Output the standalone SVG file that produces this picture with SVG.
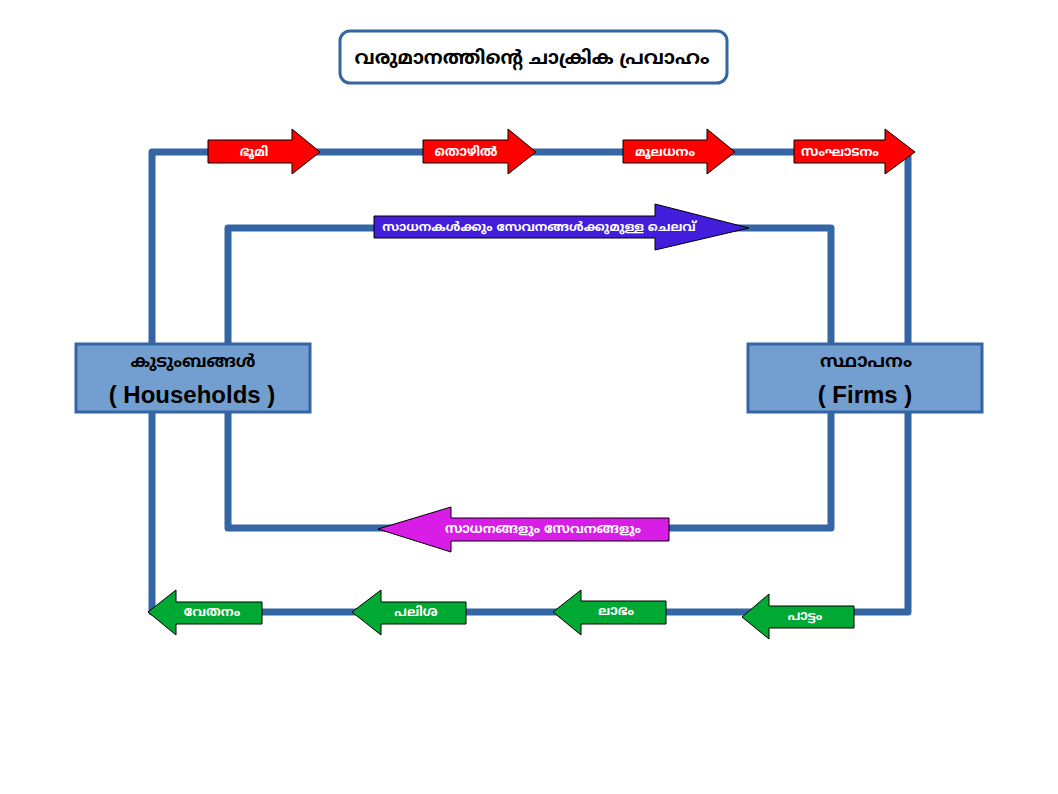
<svg xmlns="http://www.w3.org/2000/svg" width="1058" height="794" viewBox="0 0 1058 794">
<style>
.loop{fill:none;stroke:#3465a4;stroke-width:7;stroke-linejoin:round}
.box{fill:#729fcf;stroke:#3465a4;stroke-width:3}
.arr{stroke:#000;stroke-width:1}
.ml{font-family:"Noto Sans Malayalam","Noto Sans","DejaVu Sans",sans-serif;font-weight:bold;text-anchor:middle}
.at{fill:#fff;font-size:13px}
.en{font-family:"Liberation Sans",Arial,sans-serif;font-weight:bold;font-size:24px;text-anchor:middle;fill:#000}
</style>
<rect width="1058" height="794" fill="#fff"/>
<g id="title">
<rect x="340" y="31" width="387" height="52" rx="10" fill="#fff" stroke="#3465a4" stroke-width="3"/>
<text class="ml" x="532" y="64" font-size="19" fill="#000">വരുമാനത്തിന്റെ ചാക്രിക പ്രവാഹം</text>
</g>
<g id="connectors">
<path class="loop" d="M152,344 V152 H908 V612 H152 V412"/>
<path class="loop" d="M228,344 V228 H831 V528 H228 V412"/>
</g>
<g id="households">
<rect class="box" x="76" y="344" width="234" height="68"/>
<text class="ml" x="193" y="367" font-size="17" fill="#000">കുടുംബങ്ങൾ</text>
<text class="en" x="192" y="403">( Households )</text>
</g>
<g id="firms">
<rect class="box" x="748" y="344" width="234" height="68"/>
<text class="ml" x="866" y="367" font-size="18" fill="#000">സ്ഥാപനം</text>
<text class="en" x="865" y="403">( Firms )</text>
</g>
<g id="arrow-land">
<polygon class="arr" fill="#ff0000" points="208,140 292,140 292,129 320,152 292,174 292,163 208,163"/>
<text class="ml at" x="254" y="156">ഭൂമി</text>
</g>
<g id="arrow-labour">
<polygon class="arr" fill="#ff0000" points="423,140 508,140 508,129 536,152 508,174 508,163 423,163"/>
<text class="ml at" x="466" y="156">തൊഴിൽ</text>
</g>
<g id="arrow-capital">
<polygon class="arr" fill="#ff0000" points="623,140 707,140 707,129 735,152 707,174 707,163 623,163"/>
<text class="ml at" x="665" y="156">മൂലധനം</text>
</g>
<g id="arrow-organisation">
<polygon class="arr" fill="#ff0000" points="794,140 885,140 885,129 915,152 885,174 885,163 794,163"/>
<text class="ml at" x="840" y="156">സംഘാടനം</text>
</g>
<g id="arrow-spending">
<polygon class="arr" fill="#421ddb" points="374,216 655,216 655,204 749,228 655,250 655,238 374,238"/>
<text class="ml" x="539" y="231" font-size="12.6" fill="#fff">സാധനകൾക്കും സേവനങ്ങൾക്കുമുള്ള ചെലവ്</text>
</g>
<g id="arrow-goods">
<polygon class="arr" fill="#d81de6" points="669,518 451,518 451,507 378,529 451,552 451,541 669,541"/>
<text class="ml at" x="543" y="533">സാധനങ്ങളും സേവനങ്ങളും</text>
</g>
<g id="arrow-wages">
<polygon class="arr" fill="#00a933" points="262,602 176,602 176,590 148,612 176,635 176,624 262,624"/>
<text class="ml at" x="212" y="616">വേതനം</text>
</g>
<g id="arrow-interest">
<polygon class="arr" fill="#00a933" points="466,602 381,602 381,590 352,612 381,635 381,624 466,624"/>
<text class="ml at" x="416" y="616">പലിശ</text>
</g>
<g id="arrow-profit">
<polygon class="arr" fill="#00a933" points="666,601 581,601 581,590 553,612 581,635 581,624 666,624"/>
<text class="ml at" x="616" y="615">ലാഭം</text>
</g>
<g id="arrow-rent">
<polygon class="arr" fill="#00a933" points="854,606 769,606 769,594 742,617 769,639 769,628 854,628"/>
<text class="ml at" x="805" y="620">പാട്ടം</text>
</g>
</svg>
